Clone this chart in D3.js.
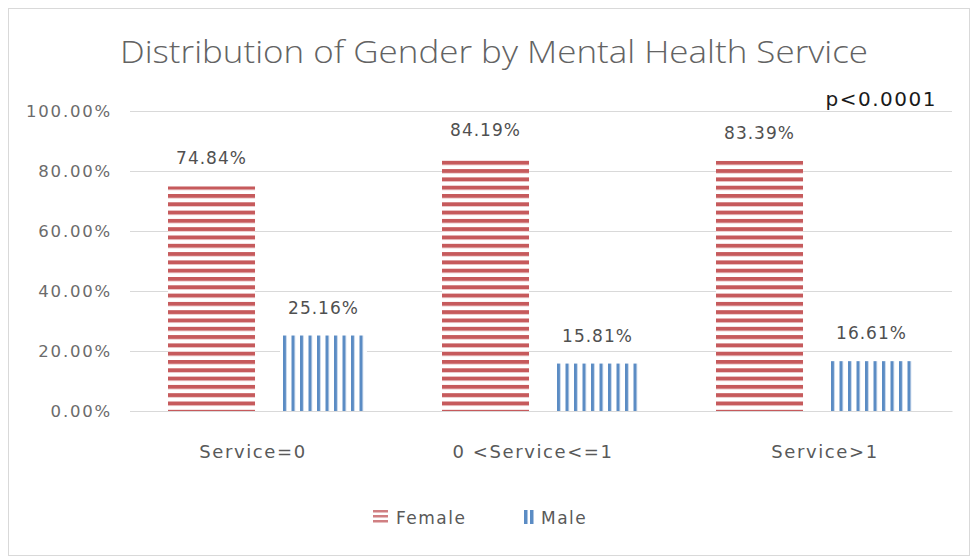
<!DOCTYPE html>
<html>
<head>
<meta charset="utf-8">
<script src="https://cdn.jsdelivr.net/npm/d3@7/dist/d3.min.js"></script>
<style>
  html, body { margin: 0; padding: 0; background: #fff; }
  svg { display: block; }
</style>
</head>
<body>
<svg id="chart" width="974" height="559"></svg>
<script>
// Gender share (%) within each mental health service group
const categories = ["Service=0", "0 <Service<=1", "Service>1"];
const seriesNames = ["Female", "Male"];
const femaleValues = [74.84, 84.19, 83.39];
const maleValues = [25.16, 15.81, 16.61];
const yTicks = [0, 20, 40, 60, 80, 100];
const pValueText = "p<0.0001";

const W = 974, H = 559;
const margin = { top: 111, right: 22, bottom: 148, left: 130 };
const svg = d3.select("#chart");
const FONT = "'DejaVu Sans', sans-serif";

// Stripe fills for the two series
const defs = svg.append("defs");
const fem = defs.append("pattern")
  .attr("id", "stripe-female").attr("patternUnits", "userSpaceOnUse")
  .attr("width", 10).attr("height", 8.3);
fem.append("rect").attr("width", 10).attr("height", 8.3).attr("fill", "#fff");
fem.append("rect").attr("y", 0).attr("width", 10).attr("height", 4).attr("fill", "#c65a5c");

const mal = defs.append("pattern")
  .attr("id", "stripe-male").attr("patternUnits", "userSpaceOnUse")
  .attr("width", 8.5).attr("height", 10);
mal.append("rect").attr("width", 8.5).attr("height", 10).attr("fill", "#fff");
mal.append("rect").attr("x", 0).attr("width", 3.2).attr("height", 10).attr("fill", "#5b8cc4");

const legendIconF = defs.append("pattern")
  .attr("id", "icon-female").attr("patternUnits", "userSpaceOnUse")
  .attr("width", 10).attr("height", 5);
legendIconF.append("rect").attr("width", 10).attr("height", 2.5).attr("fill", "#d07f82");

const legendIconM = defs.append("pattern")
  .attr("id", "icon-male").attr("patternUnits", "userSpaceOnUse")
  .attr("x", 524).attr("width", 6).attr("height", 10);
legendIconM.append("rect").attr("width", 3.5).attr("height", 10).attr("fill", "#5b8cc4");

// Chart frame
svg.append("rect")
  .attr("x", 8.5).attr("y", 8.5).attr("width", 961).attr("height", 547)
  .attr("fill", "#fff").attr("stroke", "#d9d9d9").attr("stroke-width", 1);

const plotW = W - margin.left - margin.right;
const plotH = H - margin.top - margin.bottom;
const g = svg.append("g").attr("transform", `translate(${margin.left},${margin.top})`);

const x0 = d3.scaleBand().domain(categories).range([0, plotW]).paddingInner(0).paddingOuter(0);
const x1 = d3.scaleBand().domain(seriesNames).range([38, 237]).paddingInner(0.223);
const y = d3.scaleLinear().domain([0, 100]).range([plotH, 0]);

// Gridlines and y labels
const yAxis = d3.axisLeft(y).tickValues(yTicks).tickSize(-plotW).tickPadding(18)
  .tickFormat(d => d.toFixed(2) + "%");
const ya = g.append("g").call(yAxis);
ya.select(".domain").remove();
ya.selectAll(".tick line").attr("stroke", "#d9d9d9");
ya.selectAll(".tick text")
  .attr("fill", "#6b6b6b").attr("font-size", 16.5)
  .attr("font-family", FONT)
  .attr("letter-spacing", 1.8)
  .attr("dy", "0.35em");

const rows = categories.map((c, i) => ({ cat: c, vals: [
  { s: "Female", v: femaleValues[i] }, { s: "Male", v: maleValues[i] }] }));

const grp = g.selectAll(".grp").data(rows).join("g")
  .attr("transform", d => `translate(${x0(d.cat)},0)`);

grp.selectAll("rect").data(d => d.vals).join("rect")
  .attr("x", d => x1(d.s))
  .attr("y", d => y(d.v))
  .attr("width", x1.bandwidth())
  .attr("height", d => y(0) - y(d.v))
  .attr("fill", d => d.s === "Female" ? "url(#stripe-female)" : "url(#stripe-male)");

grp.selectAll("text.val").data(d => d.vals).join("text")
  .attr("class", "val")
  .attr("x", d => x1(d.s) + x1.bandwidth() / 2)
  .attr("y", d => y(d.v) - 22)
  .attr("text-anchor", "middle")
  .attr("fill", "#505050").attr("font-size", 17)
  .attr("font-family", FONT)
  .attr("letter-spacing", 1)
  .text(d => d.v.toFixed(2) + "%");

// Category labels
const xAxis = d3.axisBottom(x0).tickSize(0).tickPadding(34);
const xa = g.append("g").attr("transform", `translate(0,${plotH})`).call(xAxis);
xa.select(".domain").attr("stroke", "#d9d9d9");
xa.selectAll(".tick text")
  .attr("fill", "#595959").attr("font-size", 18)
  .attr("font-family", FONT)
  .attr("letter-spacing", 1.6)
  .attr("dx", (d, i) => [-14, -8, 10][i]);

// Title
svg.append("text")
  .attr("x", 494).attr("y", 63).attr("text-anchor", "middle")
  .attr("fill", "#636363").attr("font-size", 31)
  .attr("font-family", "'Open Sans', sans-serif").attr("font-weight", 300)
  .attr("textLength", 748).attr("lengthAdjust", "spacingAndGlyphs")
  .text("Distribution of Gender by Mental Health Service");

// Significance note
svg.append("text")
  .attr("x", 937).attr("y", 106).attr("text-anchor", "end")
  .attr("fill", "#1a1a1a").attr("font-size", 20)
  .attr("font-family", FONT)
  .attr("letter-spacing", 1.5)
  .text(pValueText);

// Legend
const legend = svg.append("g");
const legendItems = [
  { name: "Female", ix: 373, iw: 15, tx: 396, fill: "url(#icon-female)" },
  { name: "Male", ix: 524, iw: 10, tx: 541, fill: "url(#icon-male)" }
];
legendItems.forEach(it => {
  legend.append("rect").attr("x", it.ix).attr("y", 510).attr("width", it.iw).attr("height", 14)
    .attr("fill", it.fill);
  legend.append("text").attr("x", it.tx).attr("y", 524)
    .attr("fill", "#595959").attr("font-size", 17)
    .attr("font-family", FONT)
    .attr("letter-spacing", 1.5)
    .text(it.name);
});
</script>
</body>
</html>
